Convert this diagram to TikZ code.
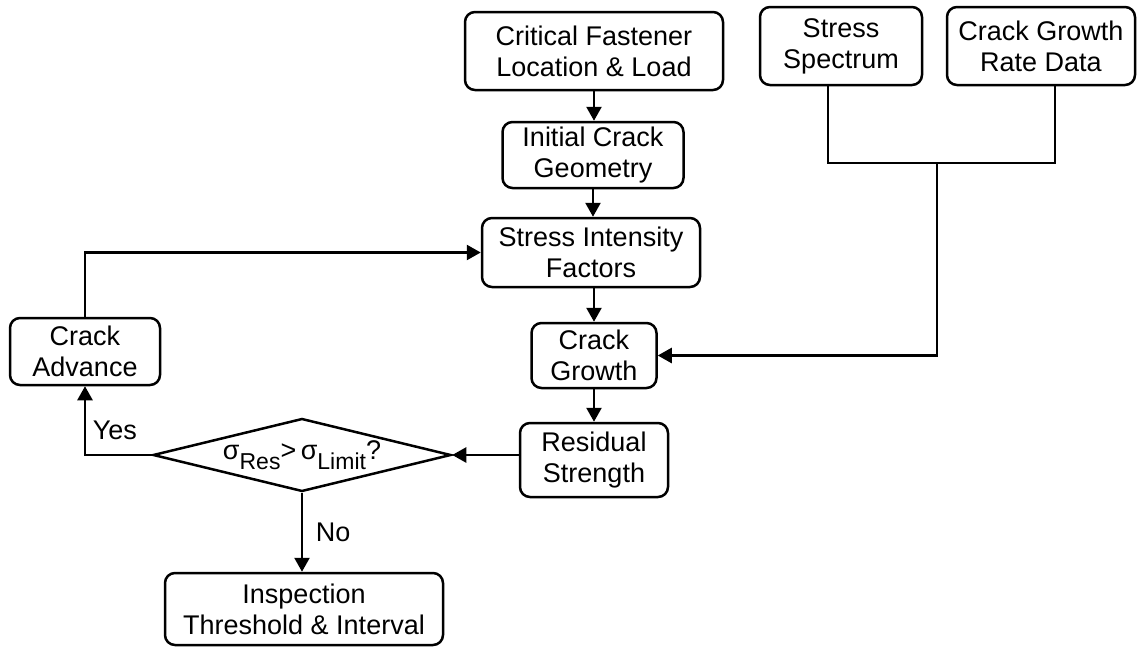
\documentclass[tikz,border=0pt]{standalone}
\usepackage{fontspec}
\setmainfont{Liberation Sans}
\usetikzlibrary{positioning,shapes.geometric,arrows.meta}

\newcommand\lowsub[1]{\raisebox{-5pt}{\fontsize{11.5}{12}\selectfont #1}}

\begin{document}
\begin{tikzpicture}[
      x=0.5pt, y=-0.5pt,
      >={Triangle[length=7pt,width=7.5pt]},
      line width=1.25pt,
      block/.style={
        draw,
        rounded corners=5pt,
        align=center,
        inner sep=0pt,
        font=\fontsize{13.5}{15.5}\selectfont
      },
      test/.style={
        draw,
        diamond,
        inner sep=0pt,
        minimum width=149pt,
        minimum height=36.5pt,
        font=\fontsize{13.5}{15.5}\selectfont
      },
      tag/.style={
        font=\fontsize{13.5}{15.5}\selectfont
      }
    ]
    \useasboundingbox (0,0) rectangle (1137,648);
    %% Blocks
    \node[block, minimum width=129pt, minimum height=39pt] (fastener) at (594,51) {Critical Fastener\\Location \& Load};
    \node[block, minimum width=90.5pt, minimum height=33pt] (init-crack) at (593,155) {Initial Crack\\Geometry};
    \node[block, minimum width=109pt, minimum height=34.5pt] (sif) at (591,252.5) {Stress Intensity\\Factors};
    \node[block, minimum width=62.5pt, minimum height=32.5pt] (growth) at (594,355.5) {Crack\\Growth};
    \node[block, minimum width=74pt, minimum height=37pt] (residual) at (594,460) {Residual\\Strength};
    \node[block, minimum width=81pt, minimum height=39pt] (spectrum) at (841,46) {Stress\\Spectrum};
    \node[block, minimum width=94pt, minimum height=39pt] (rate-data) at (1041,46) {Crack Growth\\Rate Data};
    \node[block, minimum width=75pt, minimum height=33.5pt] (advance) at (85,351.5) {Crack\\Advance};
    \node[block, minimum width=139pt, minimum height=36pt] (inspection) at (304,609) {Inspection\\Threshold \& Interval};
    %% Decision
    \node[test] (check) at (302,455) {\makebox[0pt]{σ\lowsub{Res}>\,σ\lowsub{Limit}?}};
    %% Main chain
    \draw[->] (fastener.south) -- (fastener.south |- init-crack.north);
    \draw[->] (init-crack.south) -- (init-crack.south |- sif.north);
    \draw[->] (sif.south -| growth.north) -- (growth.north);
    \draw[->] (growth.south) -- (growth.south |- residual.north);
    \draw[->] (residual.west |- check.east) -- (check.east);
    %% Spectrum and rate data
    \coordinate (join) at (937,163);
    \draw ([xshift=-6.5pt]spectrum.south) |- (join) -| ([xshift=7pt]rate-data.south);
    \draw[->] (join) |- (growth.east);
    %% Yes loop
    \draw[->] (check.west) -| node[tag, pos=0.68, right] {Yes} (advance.south);
    \draw[->] (advance.north) |- (sif.west);
    %% No
    \draw[->] (check.south) -- node[tag, right, xshift=3pt] {No} (check.south |- inspection.north);
  \end{tikzpicture}
\end{document}
